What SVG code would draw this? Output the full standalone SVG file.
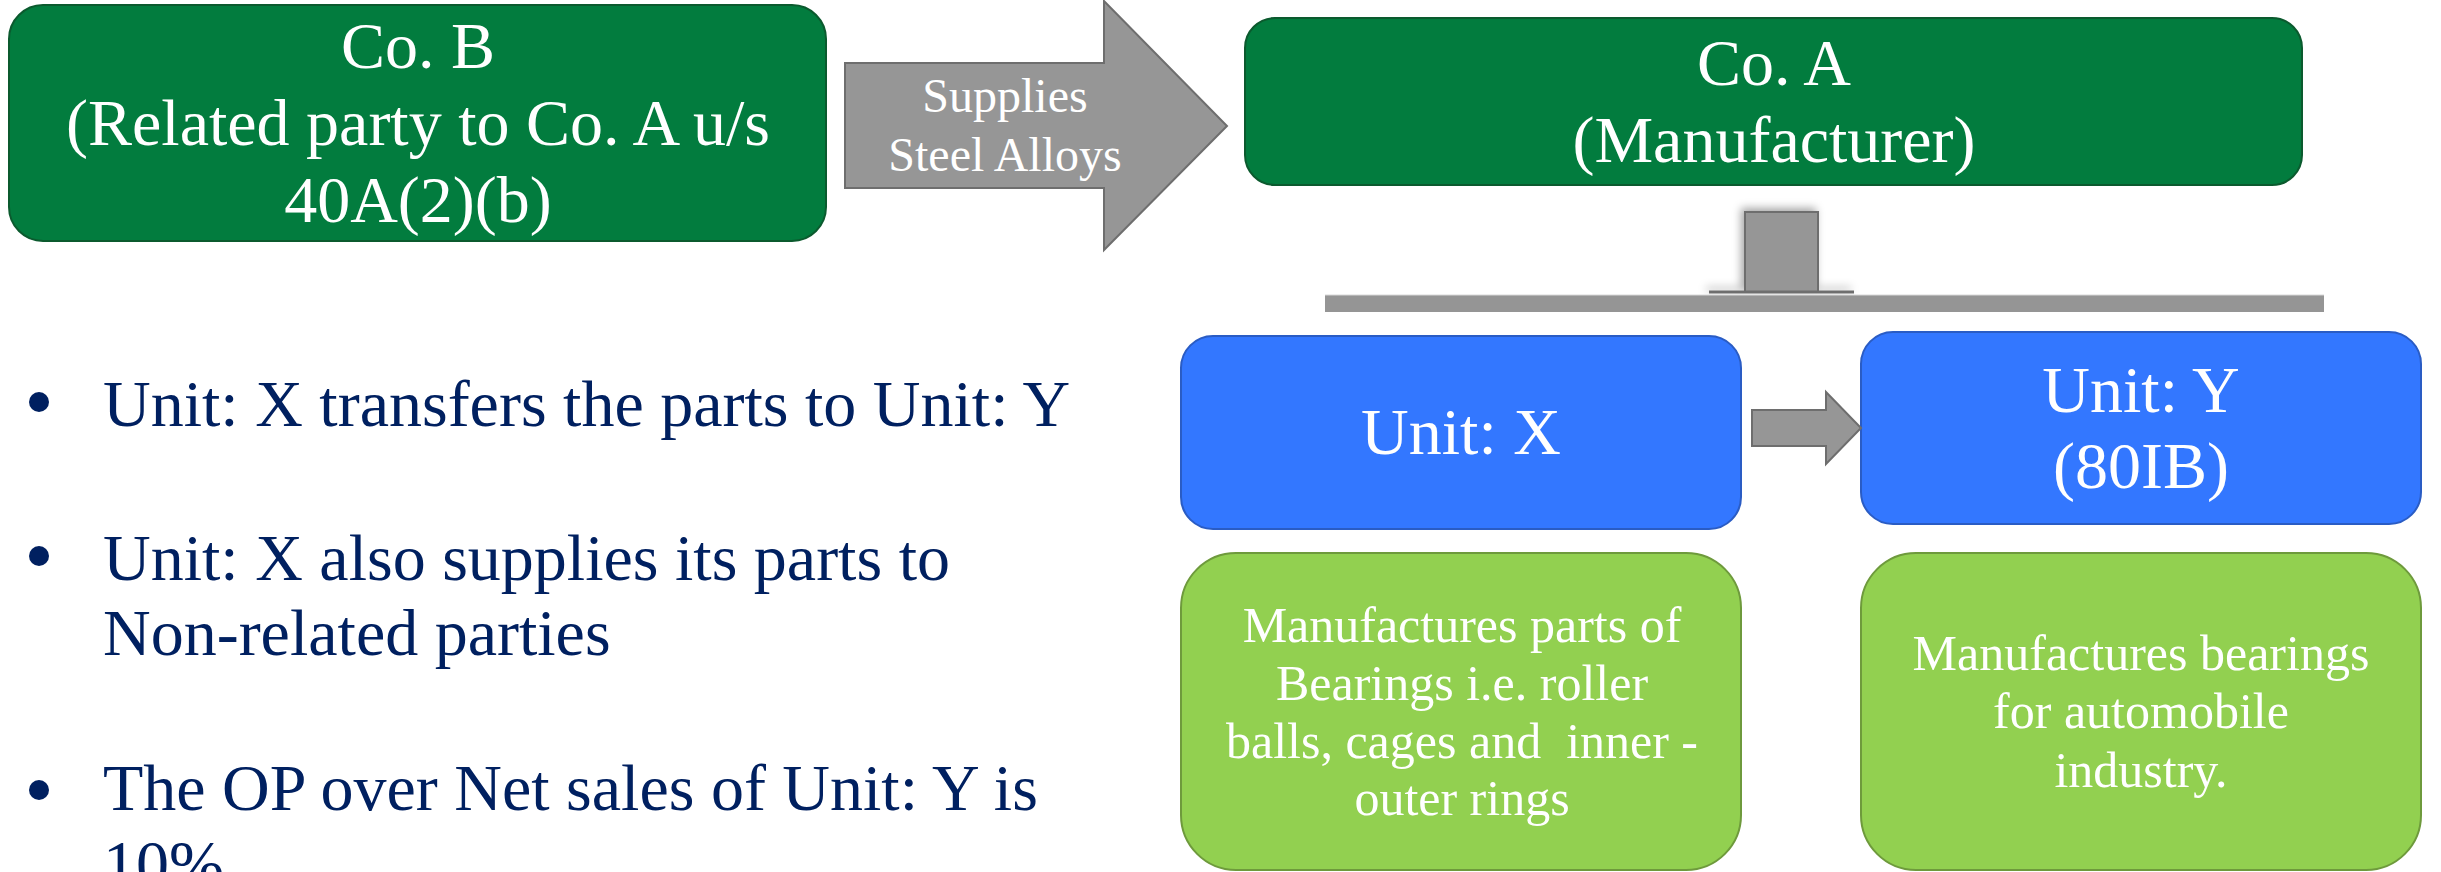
<svg xmlns="http://www.w3.org/2000/svg" width="2441" height="872" viewBox="0 0 2441 872">
<style>
.dk{fill:#027C3E;stroke:#0B5A2E;stroke-width:2}
.bl{fill:#3377FF;stroke:#2A5CC4;stroke-width:2}
.lg{fill:#92D050;stroke:#6E9A3C;stroke-width:2}
.gr{fill:#969696;stroke:#6E6E6E;stroke-width:2}
.t{font-family:"Liberation Serif","Times New Roman",serif;fill:#FFFFFF;text-anchor:middle}
.t66{font-size:66px}
.t48{font-size:48px}
.t50{font-size:50px}
.bul{font-family:"Liberation Serif","Times New Roman",serif;font-size:66px;fill:#002060}
</style>
<defs>
<filter id="sh" x="-50%" y="-50%" width="200%" height="200%">
<feDropShadow dx="-3" dy="-3" stdDeviation="4" flood-color="#000" flood-opacity="0.35"/>
</filter>
</defs>
<rect width="2441" height="872" fill="#FFFFFF"/>

<g id="coB">
<rect class="dk" x="9" y="5" width="817" height="236" rx="34"/>
<text class="t t66" x="418" y="68">Co. B</text>
<text class="t t66" x="418" y="145">(Related party to Co. A u/s</text>
<text class="t t66" x="418" y="222">40A(2)(b)</text>
</g>

<g id="coA">
<rect class="dk" x="1245" y="18" width="1057" height="167" rx="30"/>
<text class="t t66" x="1774" y="85">Co. A</text>
<text class="t t66" x="1774" y="162">(Manufacturer)</text>
</g>

<g id="unitX">
<rect class="bl" x="1181" y="336" width="560" height="193" rx="32"/>
<text class="t t66" x="1461" y="454">Unit: X</text>
</g>

<g id="unitY">
<rect class="bl" x="1861" y="332" width="560" height="192" rx="32"/>
<text class="t t66" x="2141" y="412">Unit: Y</text>
<text class="t t66" x="2141" y="488">(80IB)</text>
</g>

<g id="descX">
<rect class="lg" x="1181" y="553" width="560" height="317" rx="55"/>
<text class="t t50" x="1462" y="642">Manufactures parts of</text>
<text class="t t50" x="1462" y="700">Bearings i.e. roller</text>
<text class="t t50" x="1462" y="758" style="white-space:pre">balls, cages and  inner -</text>
<text class="t t50" x="1462" y="815">outer rings</text>
</g>

<g id="descY">
<rect class="lg" x="1861" y="553" width="560" height="317" rx="55"/>
<text class="t t50" x="2141" y="670">Manufactures bearings</text>
<text class="t t50" x="2141" y="728">for automobile</text>
<text class="t t50" x="2141" y="787">industry.</text>
</g>

<g id="connectors">
<g id="supplyArrow">
<polygon class="gr" points="845,63 1104,63 1104,1 1227,126 1104,250 1104,188 845,188"/>
<text class="t t48" x="1005" y="112" fill="#F4F4F4">Supplies</text>
<text class="t t48" x="1005" y="171" fill="#F4F4F4">Steel Alloys</text>
</g>
<g id="hierarchy">
<g filter="url(#sh)">
<rect class="gr" x="1745" y="212" width="73" height="80"/>
<line x1="1709" y1="292" x2="1854" y2="292" stroke="#6E6E6E" stroke-width="3"/>
</g>
<rect x="1325" y="295" width="999" height="17" fill="#959595"/>
<line x1="1325" y1="295" x2="2324" y2="295" stroke="#D8D8D8" stroke-width="1"/>
</g>
<polygon id="xToY" class="gr" points="1752,410 1826,410 1826,392 1861,428 1826,464 1826,446 1752,446"/>
</g>

<g id="bullets">
<circle cx="39" cy="402" r="10" fill="#002060"/>
<text class="bul" x="103" y="426">Unit: X transfers the parts to Unit: Y</text>
<circle cx="39" cy="556" r="10" fill="#002060"/>
<text class="bul" x="103" y="580">Unit: X also supplies its parts to</text>
<text class="bul" x="103" y="655">Non-related parties</text>
<circle cx="39" cy="790" r="10" fill="#002060"/>
<text class="bul" x="103" y="810">The OP over Net sales of Unit: Y is</text>
<text class="bul" x="103" y="886">10%</text>
</g>
</svg>
